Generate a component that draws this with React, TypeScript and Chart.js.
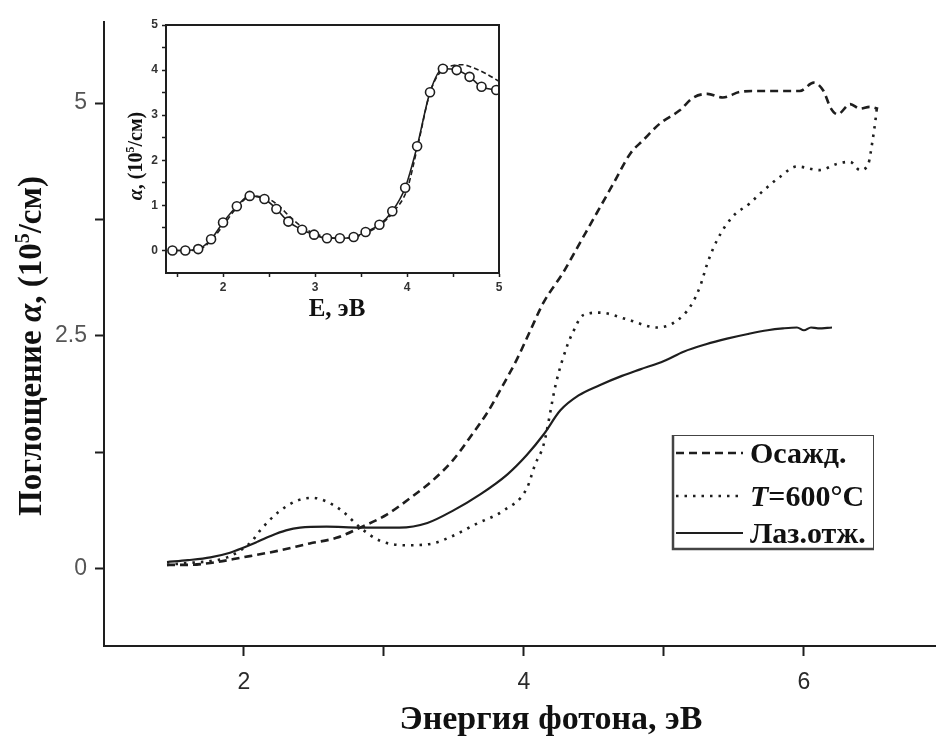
import React, { useEffect, useRef } from "react";
import { Chart, registerables } from "chart.js";
Chart.register(...registerables);

// ---------- main chart data ----------
const depE = [1.45, 1.6, 1.76, 1.99, 2.24, 2.47, 2.66, 2.83, 3.02, 3.19, 3.35, 3.49, 3.61, 3.74, 3.85, 3.95, 4.04, 4.14, 4.28, 4.4, 4.52, 4.64, 4.76, 4.85, 4.97, 5.11, 5.21, 5.31, 5.42, 5.54, 5.64, 5.74, 5.88, 5.97, 6.07, 6.14, 6.19, 6.24, 6.33, 6.4, 6.47, 6.53];
const depA = [0.04, 0.04, 0.06, 0.12, 0.19, 0.27, 0.33, 0.44, 0.58, 0.76, 0.95, 1.16, 1.4, 1.68, 1.97, 2.25, 2.54, 2.86, 3.18, 3.5, 3.82, 4.14, 4.46, 4.6, 4.78, 4.92, 5.06, 5.1, 5.06, 5.12, 5.13, 5.13, 5.13, 5.13, 5.22, 5.13, 4.95, 4.88, 4.99, 4.94, 4.96, 4.94];

const annE = [1.45, 1.6, 1.76, 1.88, 1.98, 2.06, 2.11, 2.24, 2.38, 2.49, 2.59, 2.7, 2.83, 2.97, 3.16, 3.35, 3.49, 3.66, 3.85, 4.02, 4.08, 4.14, 4.23, 4.31, 4.35, 4.42, 4.54, 4.73, 4.95, 5.08, 5.19, 5.26, 5.31, 5.38, 5.49, 5.61, 5.71, 5.83, 5.95, 6.11, 6.24, 6.33, 6.4, 6.46, 6.49, 6.51, 6.52];
const annA = [0.04, 0.06, 0.08, 0.12, 0.2, 0.3, 0.4, 0.6, 0.73, 0.76, 0.72, 0.62, 0.44, 0.3, 0.25, 0.27, 0.35, 0.48, 0.62, 0.86, 1.12, 1.33, 2.0, 2.4, 2.54, 2.72, 2.75, 2.68, 2.59, 2.65, 2.82, 3.04, 3.28, 3.53, 3.78, 3.92, 4.06, 4.21, 4.32, 4.28, 4.35, 4.37, 4.28, 4.35, 4.6, 4.81, 4.94];

const lasE = [1.45, 1.6, 1.76, 1.9, 1.99, 2.1, 2.19, 2.3, 2.4, 2.59, 2.83, 3.11, 3.31, 3.49, 3.69, 3.88, 4.02, 4.14, 4.26, 4.39, 4.54, 4.7, 4.83, 5.0, 5.14, 5.3, 5.45, 5.6, 5.74, 5.85, 5.95, 6.0, 6.05, 6.1, 6.2];
const lasA = [0.07, 0.09, 0.12, 0.17, 0.22, 0.29, 0.35, 0.41, 0.44, 0.45, 0.44, 0.44, 0.49, 0.62, 0.8, 1.01, 1.22, 1.44, 1.7, 1.86, 1.97, 2.07, 2.14, 2.23, 2.33, 2.41, 2.47, 2.52, 2.56, 2.58, 2.59, 2.56, 2.59, 2.58, 2.59];

const seriesNames = ["Осажд.", "T=600°C", "Лаз.отж."];

const xTickValues = [2, 3, 4, 5, 6];
const xTickLabels = ["2", "", "4", "", "6"];
const yTickValues = [0, 1.25, 2.5, 3.75, 5];
const yTickLabels = ["0", "", "2.5", "", "5"];

// ---------- inset data ----------
const insCircE = [1.45, 1.59, 1.73, 1.87, 2.0, 2.15, 2.29, 2.45, 2.58, 2.71, 2.86, 2.99, 3.13, 3.27, 3.42, 3.55, 3.7, 3.84, 3.98, 4.11, 4.25, 4.39, 4.54, 4.68, 4.81, 4.97];
const insCircA = [0, 0, 0.03, 0.25, 0.62, 0.98, 1.21, 1.14, 0.92, 0.64, 0.46, 0.35, 0.27, 0.27, 0.3, 0.41, 0.57, 0.87, 1.39, 2.31, 3.51, 4.03, 4.0, 3.85, 3.63, 3.56];
const insDashE = [1.4, 1.6, 1.75, 1.87, 2.0, 2.15, 2.3, 2.45, 2.6, 2.72, 2.86, 3.0, 3.15, 3.3, 3.45, 3.6, 3.72, 3.85, 4.0, 4.12, 4.25, 4.38, 4.5, 4.6, 4.72, 4.85, 5.0];
const insDashA = [0, 0, 0.03, 0.22, 0.55, 0.95, 1.2, 1.18, 1.0, 0.76, 0.52, 0.37, 0.29, 0.27, 0.31, 0.43, 0.58, 0.85, 1.35, 2.35, 3.5, 4.0, 4.1, 4.12, 4.05, 3.93, 3.75];

const insXTickValues = [1.5, 2, 2.5, 3, 3.5, 4, 4.5, 5];
const insXTickLabels = ["", "2", "", "3", "", "4", "", "5"];
const insYTickValues = [0, 0.5, 1, 1.5, 2, 2.5, 3, 3.5, 4, 4.5, 5];
const insYTickLabels = ["0", "", "1", "", "2", "", "3", "", "4", "", "5"];

const SERIF = "'Liberation Serif', 'Times New Roman', serif";
const SANS = "'Liberation Sans', Arial, sans-serif";
const INK = "#1e1e1e";

type Seg = { t: string; f: string; dy?: number };

function drawRich(ctx: CanvasRenderingContext2D, segs: Seg[], cx: number, cy: number, angle: number, baseShift: number) {
  ctx.save();
  ctx.translate(cx, cy);
  ctx.rotate(angle);
  ctx.textBaseline = "alphabetic";
  ctx.textAlign = "left";
  let total = 0;
  for (const s of segs) {
    ctx.font = s.f;
    total += ctx.measureText(s.t).width;
  }
  let x = -total / 2;
  for (const s of segs) {
    ctx.font = s.f;
    ctx.fillText(s.t, x, baseShift + (s.dy || 0));
    x += ctx.measureText(s.t).width;
  }
  ctx.restore();
}

const pts = (xs: number[], ys: number[]) => xs.map((x, i) => ({ x, y: ys[i] }));

const mainDecor = {
  id: "mainDecor",
  afterDraw(chart: any) {
    const ctx: CanvasRenderingContext2D = chart.ctx;
    ctx.save();
    ctx.fillStyle = "#111";
    // Y title
    const B = `bold 33px ${SERIF}`;
    drawRich(
      ctx,
      [
        { t: "Поглощение ", f: B },
        { t: "α", f: `italic bold 33px ${SERIF}` },
        { t: ", (10", f: B },
        { t: "5", f: `bold 20px ${SERIF}`, dy: -12 },
        { t: "/см)", f: B },
      ],
      30, 346, -Math.PI / 2, 11
    );
    // X title
    drawRich(ctx, [{ t: "Энергия фотона, эВ", f: `bold 34px ${SERIF}` }], 551, 718, 0, 11);

    // Legend box
    const lx = 672, ly = 435, lw = 201, lh = 113;
    ctx.fillStyle = "#fff";
    ctx.fillRect(lx, ly, lw, lh);
    ctx.strokeStyle = "#444";
    ctx.lineWidth = 1;
    ctx.strokeRect(lx + 0.5, ly + 0.5, lw, lh);
    ctx.lineWidth = 2.5;
    ctx.beginPath();
    ctx.moveTo(lx + 1, ly);
    ctx.lineTo(lx + 1, ly + lh + 1);
    ctx.lineTo(lx + lw + 1, ly + lh + 1);
    ctx.stroke();

    const rows = [453, 496, 533];
    const ds = chart.data.datasets;
    rows.forEach((ry, i) => {
      const d = ds[i];
      ctx.save();
      ctx.strokeStyle = d.borderColor;
      ctx.lineWidth = d.borderWidth;
      ctx.setLineDash(d.borderDash || []);
      ctx.beginPath();
      ctx.moveTo(676, ry);
      ctx.lineTo(743, ry);
      ctx.stroke();
      ctx.restore();
    });
    ctx.fillStyle = "#111";
    ctx.textBaseline = "alphabetic";
    ctx.textAlign = "left";
    const LF = `bold 30px ${SERIF}`;
    ctx.font = LF;
    ctx.fillText(seriesNames[0], 750, 453 + 10);
    ctx.font = `italic bold 30px ${SERIF}`;
    ctx.fillText("T", 750, 496 + 10);
    const tw = ctx.measureText("T").width;
    ctx.font = LF;
    ctx.fillText("=600°C", 750 + tw, 496 + 10);
    ctx.fillText(seriesNames[2], 750, 533 + 10);
    ctx.restore();
  },
};

const insetDecor = {
  id: "insetDecor",
  afterDraw(chart: any) {
    const ctx: CanvasRenderingContext2D = chart.ctx;
    const a = chart.chartArea;
    ctx.save();
    ctx.strokeStyle = INK;
    ctx.lineWidth = 2;
    ctx.beginPath();
    ctx.moveTo(a.left, a.top);
    ctx.lineTo(a.right, a.top);
    ctx.lineTo(a.right, a.bottom);
    ctx.stroke();
    ctx.fillStyle = "#111";
    const B = `bold 20px ${SERIF}`;
    drawRich(
      ctx,
      [
        { t: "α", f: `italic bold 20px ${SERIF}` },
        { t: ", (10", f: B },
        { t: "5", f: `bold 12px ${SERIF}`, dy: -8 },
        { t: "/см)", f: B },
      ],
      25, 146, -Math.PI / 2, 7
    );
    drawRich(ctx, [{ t: "E, эВ", f: `bold 25px ${SERIF}` }], 227, 298, 0, 8);
    ctx.restore();
  },
};

export default function App() {
  const mainRef = useRef<HTMLCanvasElement>(null);
  const insetRef = useRef<HTMLCanvasElement>(null);

  useEffect(() => {
    const main = new Chart(mainRef.current as HTMLCanvasElement, {
      type: "scatter",
      data: {
        datasets: [
          {
            label: seriesNames[0],
            data: pts(depE, depA),
            showLine: true,
            borderColor: INK,
            borderWidth: 2.6,
            borderDash: [8, 5],
            pointRadius: 0,
            cubicInterpolationMode: "monotone",
          },
          {
            label: seriesNames[1],
            data: pts(annE, annA),
            showLine: true,
            borderColor: INK,
            borderWidth: 2.6,
            borderDash: [2.5, 6],
            pointRadius: 0,
            cubicInterpolationMode: "monotone",
          },
          {
            label: seriesNames[2],
            data: pts(lasE, lasA),
            showLine: true,
            borderColor: INK,
            borderWidth: 2.2,
            pointRadius: 0,
            cubicInterpolationMode: "monotone",
          },
        ],
      } as any,
      options: {
        animation: false,
        responsive: false,
        maintainAspectRatio: false,
        layout: { padding: { left: 0, top: 17, right: 0, bottom: 0 } },
        plugins: { legend: { display: false }, tooltip: { enabled: false } },
        scales: {
          x: {
            type: "linear",
            min: 1.0,
            max: 6.943,
            afterFit: (s: any) => { s.height = 96; },
            afterBuildTicks: (s: any) => { s.ticks = xTickValues.map((v) => ({ value: v })); },
            ticks: {
              autoSkip: false,
              maxRotation: 0,
              padding: 13,
              color: "#2a2a2a",
              font: { family: "'Liberation Sans Narrow', 'Liberation Sans', Arial, sans-serif", size: 23 },
              callback: (_v: any, i: number) => xTickLabels[i],
            },
            grid: { drawOnChartArea: false, drawTicks: true, tickLength: 10, tickWidth: 2, tickColor: INK },
            border: { display: true, color: INK, width: 2 },
          },
          y: {
            type: "linear",
            min: -0.832,
            max: 5.874,
            afterFit: (s: any) => { s.width = 104; },
            afterBuildTicks: (s: any) => { s.ticks = yTickValues.map((v) => ({ value: v })); },
            ticks: {
              autoSkip: false,
              padding: 8,
              color: "#555",
              font: { family: SANS, size: 23 },
              callback: (_v: any, i: number) => yTickLabels[i],
            },
            grid: { drawOnChartArea: false, drawTicks: true, tickLength: 9, tickWidth: 2, tickColor: INK },
            border: { display: true, color: INK, width: 2 },
          },
        },
      } as any,
      plugins: [mainDecor],
    });

    const inset = new Chart(insetRef.current as HTMLCanvasElement, {
      type: "scatter",
      data: {
        datasets: [
          {
            label: "circles",
            data: pts(insCircE, insCircA),
            showLine: true,
            borderColor: INK,
            borderWidth: 1.6,
            pointRadius: 4.5,
            pointBackgroundColor: "#fff",
            pointBorderColor: INK,
            pointBorderWidth: 1.6,
            cubicInterpolationMode: "monotone",
          },
          {
            label: "dashed",
            data: pts(insDashE, insDashA),
            showLine: true,
            borderColor: INK,
            borderWidth: 1.6,
            borderDash: [5, 3],
            pointRadius: 0,
            cubicInterpolationMode: "monotone",
          },
        ],
      } as any,
      options: {
        animation: false,
        responsive: false,
        maintainAspectRatio: false,
        layout: { padding: { left: 0, top: 15, right: 21, bottom: 0 } },
        plugins: { legend: { display: false }, tooltip: { enabled: false } },
        scales: {
          x: {
            type: "linear",
            min: 1.38,
            max: 5.0,
            afterFit: (s: any) => { s.height = 57; },
            afterBuildTicks: (s: any) => { s.ticks = insXTickValues.map((v) => ({ value: v })); },
            ticks: {
              autoSkip: false,
              maxRotation: 0,
              padding: 3,
              color: "#333",
              font: { family: SANS, size: 12, weight: "bold" },
              callback: (_v: any, i: number) => insXTickLabels[i],
            },
            grid: { drawOnChartArea: false, drawTicks: true, tickLength: 4, tickWidth: 1.5, tickColor: INK },
            border: { display: true, color: INK, width: 2 },
          },
          y: {
            type: "linear",
            min: -0.5,
            max: 5.0,
            afterFit: (s: any) => { s.width = 56; },
            afterBuildTicks: (s: any) => { s.ticks = insYTickValues.map((v) => ({ value: v })); },
            ticks: {
              autoSkip: false,
              padding: 4,
              color: "#333",
              font: { family: SANS, size: 12, weight: "bold" },
              callback: (_v: any, i: number) => insYTickLabels[i],
            },
            grid: { drawOnChartArea: false, drawTicks: true, tickLength: 4, tickWidth: 1.5, tickColor: INK },
            border: { display: true, color: INK, width: 2 },
          },
        },
      } as any,
      plugins: [insetDecor],
    });

    return () => {
      main.destroy();
      inset.destroy();
    };
  }, []);

  return (
    <div style={{ position: "fixed", left: 0, top: 0, width: 936, height: 742, background: "#fff", overflow: "hidden" }}>
      <canvas ref={mainRef} width={936} height={742} style={{ position: "absolute", left: 0, top: 0, width: 936, height: 742 }} />
      <canvas ref={insetRef} width={410} height={320} style={{ position: "absolute", left: 110, top: 10, width: 410, height: 320 }} />
    </div>
  );
}
